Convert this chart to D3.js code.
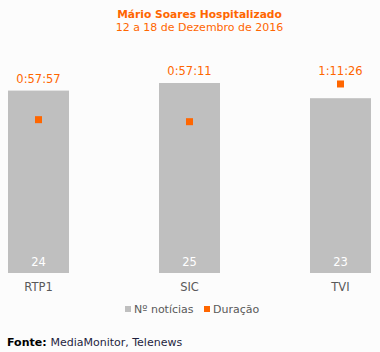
<!DOCTYPE html>
<html>
<head>
<meta charset="utf-8">
<script src="https://cdn.jsdelivr.net/npm/d3@7"></script>
<style>
  body { margin: 0; background: #fcfcfc; }
  svg { display: block; font-family: "DejaVu Sans", Verdana, sans-serif; }
</style>
</head>
<body>
<script>
// Data
const channels = ["RTP1", "SIC", "TVI"];
const newsCount = [24, 25, 23];
const durationLabels = ["0:57:57", "0:57:11", "1:11:26"];

// Convert "h:mm:ss" to seconds
const toSeconds = s => {
  const p = s.split(":").map(Number);
  return p[0] * 3600 + p[1] * 60 + p[2];
};
const durations = durationLabels.map(toSeconds);

const width = 380, height = 352;
const baseY = 273, topY = 45;

const svg = d3.select("body")
  .append("svg")
    .attr("width", width)
    .attr("height", height);

svg.append("rect")
    .attr("width", width)
    .attr("height", height)
    .attr("fill", "#fcfcfc");

// Title
svg.append("text")
    .attr("x", 199.5)
    .attr("y", 18)
    .attr("text-anchor", "middle")
    .attr("fill", "#ff6600")
    .style("font-size", "10.7px")
    .style("font-weight", "bold")
    .text("Mário Soares Hospitalizado");

svg.append("text")
    .attr("x", 199.5)
    .attr("y", 31)
    .attr("text-anchor", "middle")
    .attr("fill", "#ff6600")
    .style("font-size", "11px")
    .text("12 a 18 de Dezembro de 2016");

// Scales
const x = d3.scaleBand()
    .domain(channels)
    .range([8, 371])
    .paddingInner(0.596)
    .paddingOuter(0);

const y = d3.scaleLinear()
    .domain([0, 30])
    .range([baseY, topY]);

const y2 = d3.scaleLinear()
    .domain([0, 5170])
    .range([baseY, topY]);

const data = channels.map((c, i) => ({
  channel: c, count: newsCount[i], dur: durations[i], label: durationLabels[i]
}));

// Bars
svg.selectAll("rect.bar")
  .data(data)
  .enter()
  .append("rect")
    .attr("class", "bar")
    .attr("x", d => x(d.channel))
    .attr("y", d => y(d.count))
    .attr("width", x.bandwidth())
    .attr("height", d => y(0) - y(d.count))
    .attr("fill", "#bfbfbf");

// Count labels inside the bars
svg.selectAll("text.count")
  .data(data)
  .enter()
  .append("text")
    .attr("class", "count")
    .attr("x", d => x(d.channel) + x.bandwidth() / 2)
    .attr("y", baseY - 7)
    .attr("text-anchor", "middle")
    .attr("fill", "#ffffff")
    .style("font-size", "11.5px")
    .text(d => d.count);

// Duration markers
svg.selectAll("rect.dur")
  .data(data)
  .enter()
  .append("rect")
    .attr("class", "dur")
    .attr("x", d => x(d.channel) + x.bandwidth() / 2 - 3.5)
    .attr("y", d => y2(d.dur) - 3.5)
    .attr("width", 7)
    .attr("height", 7)
    .attr("fill", "#ff6600");

// Duration labels above
svg.selectAll("text.dur")
  .data(data)
  .enter()
  .append("text")
    .attr("class", "dur")
    .attr("x", d => x(d.channel) + x.bandwidth() / 2)
    .attr("y", d => Math.min(y(d.count) - 8, y2(d.dur) - 9))
    .attr("text-anchor", "middle")
    .attr("fill", "#ff6600")
    .style("font-size", "11.5px")
    .text(d => d.label);

// Category axis labels
svg.selectAll("text.cat")
  .data(channels)
  .enter()
  .append("text")
    .attr("class", "cat")
    .attr("x", d => x(d) + x.bandwidth() / 2)
    .attr("y", 291)
    .attr("text-anchor", "middle")
    .attr("fill", "#595959")
    .style("font-size", "11.5px")
    .text(d => d);

// Legend
const legend = [
  {name: "Nº notícias", color: "#bfbfbf", x: 125},
  {name: "Duração", color: "#ff6600", x: 204}
];
const lg = svg.selectAll("g.legend")
  .data(legend)
  .enter()
  .append("g")
    .attr("transform", d => "translate(" + d.x + ",309)");
lg.append("rect")
    .attr("y", -3)
    .attr("width", 6)
    .attr("height", 6)
    .attr("fill", d => d.color);
lg.append("text")
    .attr("x", 9)
    .attr("y", 4)
    .attr("fill", "#595959")
    .style("font-size", "11px")
    .text(d => d.name);

// Source
const src = svg.append("text")
    .attr("x", 7)
    .attr("y", 346)
    .style("font-size", "11px")
    .attr("fill", "#000");
src.append("tspan").style("font-weight", "bold").text("Fonte: ");
src.append("tspan").attr("fill", "#1f1f3f").text("MediaMonitor, Telenews");
</script>
</body>
</html>
